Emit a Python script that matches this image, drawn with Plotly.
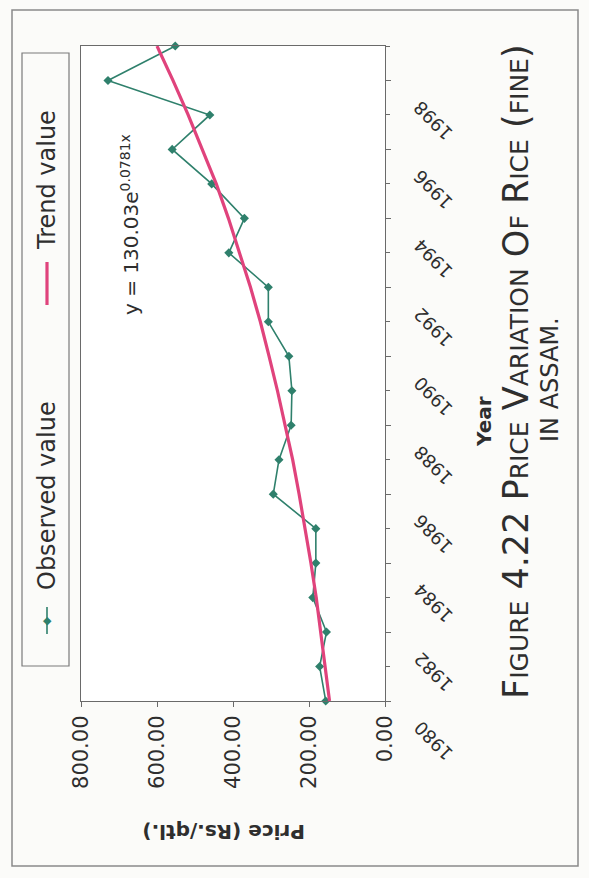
import plotly.graph_objects as go

# ---------------- data ----------------
years = list(range(1980, 2000))
observed = [156, 172, 154, 190, 182, 182, 294, 279, 247, 245,
            253, 307, 307, 411, 370, 456, 560, 461, 729, 552]
trend = [146, 157, 168, 181, 195, 210, 226, 243, 262, 283,
         305, 328, 354, 382, 412, 444, 480, 518, 558, 600]
price_ticks = [0, 200, 400, 600, 800]
year_ticks = list(range(1980, 2000, 2))

# ---------------- geometry helpers (layout only) ----------------
W, H = 589, 878
L, R, T, B = 81, 385, 46, 701
PW, PH = R - L, B - T


def px(x):
    return (x - L) / PW


def py(y):
    return (B - y) / PH


FONT = "DejaVu Sans"
TXT = "#2e2e2e"
OBS_C = "#2f806c"
TR_C = "#e0437c"
FRAME = "#6a6a6a"

fig = go.Figure()
fig.add_trace(go.Scatter(
    x=observed, y=years, mode="lines+markers", name="Observed value",
    line=dict(color=OBS_C, width=1.6),
    marker=dict(symbol="diamond", size=7, color=OBS_C),
    cliponaxis=False, showlegend=False))
fig.add_trace(go.Scatter(
    x=trend, y=years, mode="lines", name="Trend value",
    line=dict(color=TR_C, width=3.2), cliponaxis=False, showlegend=False))

fig.update_xaxes(
    range=[800, 0], tickvals=price_ticks, tickformat=".2f",
    tickangle=-90, ticks="outside", ticklen=5, tickcolor=FRAME,
    showline=True, mirror=True, linecolor=FRAME, linewidth=1.2,
    showgrid=False, zeroline=False,
    tickfont=dict(family=FONT, size=21, color=TXT))
fig.update_yaxes(
    range=[1980, 1999], side="right", tickvals=year_ticks,
    showticklabels=False, ticks="outside", ticklen=5, tickcolor=FRAME,
    minor=dict(dtick=1, tick0=1980, ticks="outside", ticklen=4, tickcolor=FRAME),
    showline=True, mirror=True, linecolor=FRAME, linewidth=1.2,
    showgrid=False, zeroline=False)

shapes = []
# page border
shapes.append(dict(type="rect", xref="paper", yref="paper",
                   x0=px(12), x1=px(578), y0=py(866), y1=py(10),
                   line=dict(color="#8a8a8a", width=1.5)))
# legend box
shapes.append(dict(type="rect", xref="paper", yref="paper",
                   x0=px(22), x1=px(69), y0=py(666), y1=py(53),
                   line=dict(color="#7a7a7a", width=1.2)))
# legend sample: observed
shapes.append(dict(type="line", xref="paper", yref="paper",
                   x0=px(47), x1=px(47), y0=py(634), y1=py(607),
                   line=dict(color=OBS_C, width=1.6)))
# legend sample: trend
shapes.append(dict(type="line", xref="paper", yref="paper",
                   x0=px(47), x1=px(47), y0=py(305), y1=py(262),
                   line=dict(color=TR_C, width=3.2)))

annotations = []


def ann(text, x, y, size, angle=-90, bold=False, color=TXT, variant="normal"):
    annotations.append(dict(
        text=text, xref="paper", yref="paper", x=px(x), y=py(y),
        xanchor="center", yanchor="middle", showarrow=False,
        textangle=angle,
        font=dict(family=FONT, size=size, color=color, variant=variant,
                  weight="bold" if bold else "normal")))


# year tick labels (rotated, placed on the y scale)
for yr in year_ticks:
    annotations.append(dict(
        text=str(yr), xref="paper", yref="y", x=px(433), y=yr,
        yshift=-40, xanchor="center", yanchor="middle", showarrow=False,
        textangle=-135, font=dict(family=FONT, size=18, color=TXT)))

# legend marker glyph
ann("◆", 47, 620, 11, angle=0, color=OBS_C)
ann("Observed value", 47, 496, 24)
ann("Trend value", 47, 180, 24)
# equation
ann("y = 130.03e<sup>0.0781x</sup>", 130, 225, 20)
# axis titles
ann("Year", 484, 422, 20, bold=True)
ann("Price (Rs./qtl.)", 224, 832, 20, angle=180, bold=True)
# figure caption (small caps)
ann("Figure 4.22 Price Variation Of Rice (fine)", 516, 372, 35, variant="small-caps")
ann("IN ASSAM.", 550, 380, 24)

fig.update_layout(
    width=W, height=H, autosize=False,
    margin=dict(l=L, r=W - R, t=T, b=H - B, pad=0),
    paper_bgcolor="#fbfbf9", plot_bgcolor="#ffffff",
    shapes=shapes, annotations=annotations, showlegend=False)

fig.write_html("out.html")
